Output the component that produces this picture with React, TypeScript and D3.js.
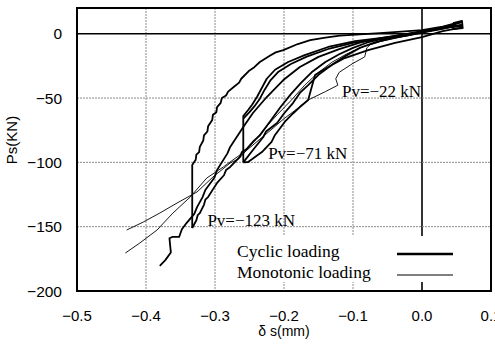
import React from 'react'
import { scaleLinear, line } from 'd3'

type Pt = [number, number]

const xTicks = [-0.5, -0.4, -0.3, -0.2, -0.1, 0.0, 0.1]
const yTicks = [0, -50, -100, -150, -200]

// cyclic loading (thick), x in mm, y in kN
const cyclicEnvelope: Pt[] = [[0.058, 9.5], [0.03, 5.5], [0, 2.8], [-0.03, 1.6], [-0.061, 0.5], [-0.09, -0.5], [-0.119, -1.5], [-0.14, -3], [-0.162, -5], [-0.18, -8], [-0.201, -12.7], [-0.212, -14.5], [-0.22, -17], [-0.235, -22], [-0.243, -26], [-0.25, -28.5], [-0.262, -35], [-0.265, -38], [-0.272, -41], [-0.281, -45], [-0.284, -48], [-0.29, -50], [-0.292, -54], [-0.297, -57], [-0.298, -61], [-0.303, -63], [-0.304, -67], [-0.31, -72], [-0.311, -76], [-0.316, -79], [-0.317, -83], [-0.322, -88], [-0.323, -92], [-0.327, -94], [-0.328, -98], [-0.333, -102], [-0.333, -151]]
const cyclicUnload123: Pt[] = [[-0.333, -151], [-0.327, -145], [-0.325, -141], [-0.322, -139.5], [-0.316, -133], [-0.314, -129], [-0.31, -127], [-0.303, -121], [-0.297, -116], [-0.287, -110], [-0.284, -106], [-0.278, -103.6], [-0.264, -95.8], [-0.261, -92], [-0.255, -90], [-0.245, -84], [-0.235, -79], [-0.22, -68], [-0.205, -57], [-0.19, -47], [-0.175, -38], [-0.16, -30], [-0.14, -22], [-0.12, -16], [-0.1, -11], [-0.08, -7], [-0.06, -4], [-0.04, -2], [-0.02, 0], [0, 2], [0.03, 4.5], [0.059, 6]]
const cyclicLoad71: Pt[] = [[0.058, 9.5], [0.03, 5], [0, 1.5], [-0.02, -0.5], [-0.058, -3.3], [-0.097, -5.7], [-0.136, -10.3], [-0.17, -16.6], [-0.194, -22], [-0.213, -28], [-0.225, -35], [-0.232, -42], [-0.239, -49], [-0.246, -55], [-0.252, -59.3], [-0.259, -64], [-0.259, -100]]
const cyclicReload71: Pt[] = [[0.058, 9], [0.03, 4.5], [0, 1], [-0.02, -1.2], [-0.058, -4.2], [-0.097, -6.8], [-0.134, -11.5], [-0.167, -17.8], [-0.19, -23.5], [-0.208, -29.5], [-0.22, -36.5], [-0.228, -43.5], [-0.235, -50.5], [-0.243, -56.5], [-0.25, -61], [-0.259, -66]]
const cyclicUnload71: Pt[] = [[-0.259, -100], [-0.245, -90.4], [-0.23, -80.3], [-0.226, -76], [-0.21, -69.4], [-0.2, -62], [-0.187, -53.9], [-0.177, -46], [-0.165, -40], [-0.15, -32], [-0.13, -24], [-0.11, -17], [-0.09, -11], [-0.07, -7], [-0.05, -4], [-0.03, -1.5], [0, 1.5], [0.03, 4.5], [0.059, 6.5]]
const cyclicPath22: Pt[] = [[0.059, 5], [0.03, 2], [0, -2.6], [-0.039, -7.2], [-0.078, -12.7], [-0.112, -18.9], [-0.136, -25.9], [-0.155, -32.1], [-0.165, -51.5], [-0.177, -57], [-0.187, -62], [-0.199, -68.6], [-0.213, -78.7], [-0.218, -84], [-0.232, -92], [-0.252, -99.7], [-0.259, -100]]
const cyclicFinal: Pt[] = [[0.058, 7], [0.03, 4], [0, 1.5], [-0.03, -1], [-0.06, -3.5], [-0.09, -7], [-0.12, -12], [-0.15, -18], [-0.177, -25.9], [-0.201, -36], [-0.225, -49.2], [-0.245, -61.6], [-0.259, -72.5], [-0.278, -88], [-0.282, -93], [-0.297, -106], [-0.301, -112], [-0.314, -121.5], [-0.318, -127], [-0.326, -134.8], [-0.33, -140], [-0.341, -147], [-0.348, -152], [-0.352, -158], [-0.362, -158], [-0.366, -159], [-0.364, -170], [-0.372, -176], [-0.38, -180.5]]
const tipLoop: Pt[] = [[0.045, 8.3], [0.058, 9.9], [0.059, 4.4], [0.045, 3.6], [0.045, 8.3]]

// monotonic loading (thin)
const mono1: Pt[] = [[0.05, 6], [0.025, 3], [0, 0.5], [-0.02, -1.5], [-0.04, -3.5], [-0.06, -6], [-0.075, -8.5], [-0.08, -11], [-0.083, -18], [-0.1, -23], [-0.12, -30], [-0.125, -35], [-0.122, -40], [-0.14, -45], [-0.165, -51.5], [-0.185, -60], [-0.2, -66], [-0.215, -73], [-0.235, -82], [-0.255, -91], [-0.268, -95.8], [-0.288, -103.6], [-0.312, -112.2], [-0.336, -127], [-0.361, -139.4], [-0.384, -152.6], [-0.409, -162.7], [-0.43, -170.5]]
const mono2: Pt[] = [[0.05, 6.5], [0.025, 3.5], [0, 1], [-0.03, -2.5], [-0.06, -6], [-0.09, -11], [-0.11, -16], [-0.13, -22], [-0.15, -30], [-0.17, -40], [-0.19, -52], [-0.21, -63], [-0.23, -75], [-0.25, -88], [-0.265, -97], [-0.278, -100.5], [-0.303, -111.4], [-0.326, -123], [-0.355, -131.6], [-0.38, -139.4], [-0.404, -146.4], [-0.428, -152.6]]

const cyclicCurves = [cyclicEnvelope, cyclicUnload123, cyclicLoad71, cyclicReload71, cyclicUnload71, cyclicPath22, cyclicFinal, tipLoop]
const monoCurves = [mono1, mono2]

const labels = [
  { text: 'Pv=−22 kN', x: -0.116, y: -49 },
  { text: 'Pv=−71 kN', x: -0.223, y: -97.5 },
  { text: 'Pv=−123 kN', x: -0.311, y: -149.5 },
]
const legendItems = ['Cyclic loading', 'Monotonic loading']

const App = () => {
  const width = 495
  const height = 345
  const left = 77, right = 491, top = 8, bottom = 291

  const x = scaleLinear().domain([-0.5, 0.1]).range([left, right])
  const y = scaleLinear().domain([-200, 20]).range([bottom, top])
  const path = line<Pt>().x(d => x(d[0])).y(d => y(d[1]))

  const sans = '"Liberation Sans", Arial, sans-serif'
  const serif = '"Liberation Serif", "Times New Roman", serif'

  return (
    <div style={{ position: 'absolute', left: 0, top: 0 }}>
      <svg width={width} height={height} style={{ display: 'block', background: '#fff' }}>
        {/* grid */}
        {xTicks.slice(1, -1).map(t => (
          <line key={'gx' + t} x1={x(t)} x2={x(t)} y1={top} y2={bottom}
            stroke={t === 0 ? '#000' : '#8a8a8a'} strokeWidth={t === 0 ? 1.6 : 1}
            strokeDasharray={t === 0 ? undefined : '2,1'} />
        ))}
        {yTicks.slice(0, -1).map(t => (
          <line key={'gy' + t} x1={left} x2={right} y1={y(t)} y2={y(t)}
            stroke={t === 0 ? '#000' : '#8a8a8a'} strokeWidth={t === 0 ? 1.6 : 1}
            strokeDasharray={t === 0 ? undefined : '2,1'} />
        ))}

        {/* legend box */}
        <rect x={229} y={236} width={261} height={46} fill="#fff" />
        {legendItems.map((d, i) => (
          <g key={d}>
            <text x={237} y={257 + i * 21} fontFamily={serif} fontSize={17.5}>{d}</text>
            <line x1={397} x2={453} y1={254 + i * 21} y2={254 + i * 21} stroke="#000" strokeWidth={i === 0 ? 2.6 : 1} />
          </g>
        ))}

        {/* curves */}
        {monoCurves.map((c, i) => (
          <path key={'m' + i} d={path(c) ?? ''} fill="none" stroke="#000" strokeWidth={0.9} strokeLinejoin="round" />
        ))}
        {cyclicCurves.map((c, i) => (
          <path key={'c' + i} d={path(c) ?? ''} fill="none" stroke="#000" strokeWidth={1.8} strokeLinejoin="round" />
        ))}

        {labels.map(l => (
          <text key={l.text} x={x(l.x)} y={y(l.y)} fontFamily={serif} fontSize={17}>{l.text}</text>
        ))}

        {/* frame */}
        <rect x={left} y={top} width={right - left} height={bottom - top} fill="none" stroke="#000" strokeWidth={2} />

        {/* ticks */}
        {xTicks.map(t => (
          <text key={'tx' + t} x={x(t)} y={321} textAnchor="middle" fontFamily={sans} fontSize={15}>
            {t.toFixed(1).replace('-', '−')}
          </text>
        ))}
        {yTicks.map(t => (
          <text key={'ty' + t} x={62} y={y(t) + 5.5} textAnchor="end" fontFamily={sans} fontSize={15.5}>
            {String(t).replace('-', '−')}
          </text>
        ))}

        <text x={(left + right) / 2} y={336} textAnchor="middle" fontFamily={sans} fontSize={14}>δ s(mm)</text>
        <text transform={`translate(17,140) rotate(-90)`} textAnchor="middle" fontFamily={sans} fontSize={15}>Ps(KN)</text>
      </svg>
    </div>
  )
}

export default App
